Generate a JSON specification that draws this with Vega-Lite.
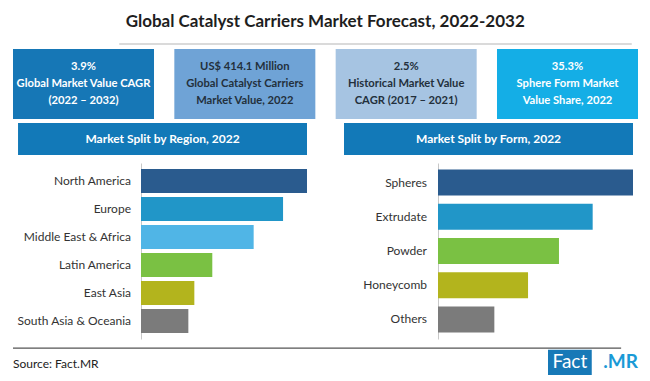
{
  "$schema": "https://vega.github.io/schema/vega-lite/v6.json",
  "background": "white",
  "padding": {"left": 12, "right": 13, "top": 13, "bottom": 3},
  "title": {"text": "Global Catalyst Carriers Market Forecast, 2022-2032", "fontSize": 17, "fontWeight": "bold", "font": "Lato", "color": "#1e1e1e", "anchor": "middle", "offset": 12},
  "spacing": 4,
  "datasets": {
    "region": [
      {"region": "North America", "value": 30.5},
      {"region": "Europe", "value": 26.1},
      {"region": "Middle East & Africa", "value": 20.7},
      {"region": "Latin America", "value": 13.1},
      {"region": "East Asia", "value": 9.8},
      {"region": "South Asia & Oceania", "value": 8.7}
    ],
    "form": [
      {"form": "Spheres", "value": 35.3},
      {"form": "Extrudate", "value": 28.0},
      {"form": "Powder", "value": 21.9},
      {"form": "Honeycomb", "value": 16.3},
      {"form": "Others", "value": 10.2}
    ]
  },
  "resolve": {"scale": {"color": "independent", "x": "independent", "y": "independent"}},
  "vconcat": [
    {
      "width": 625, "height": 1,
      "data": {"values": [{"k": 1}]},
      "mark": {"type": "rule", "color": "#b5b5b5", "strokeWidth": 1},
      "encoding": {
        "x": {"datum": 0.17, "type": "quantitative", "scale": {"domain": [0, 1]}, "axis": null},
        "x2": {"datum": 0.99},
        "y": {"datum": 0, "type": "quantitative", "scale": {"domain": [0, 1]}, "axis": null}
      }
    },
    {
      "width": 625, "height": 70,
      "data": {"values": [
        {"box": "A", "label": "3.9%\nGlobal Market Value CAGR\n(2022 – 2032)"},
        {"box": "B", "label": "US$ 414.1 Million\nGlobal Catalyst Carriers\nMarket Value, 2022"},
        {"box": "C", "label": "2.5%\nHistorical Market Value\nCAGR (2017 – 2021)"},
        {"box": "D", "label": "35.3%\nSphere Form Market\nValue Share, 2022"}
      ]},
      "encoding": {"x": {"field": "box", "type": "nominal", "scale": {"type": "band", "paddingInner": 0.126, "paddingOuter": 0}, "axis": null}},
      "layer": [
        {"mark": {"type": "rect"}, "encoding": {"color": {"field": "box", "type": "nominal", "scale": {"domain": ["A", "B", "C", "D"], "range": ["#1677b6", "#6fa3d6", "#a6c4e2", "#14aee6"]}, "legend": null}}},
        {"mark": {"type": "text", "lineBreak": "\n", "fontWeight": "bold", "fontSize": 11.2, "lineHeight": 17, "baseline": "middle", "dy": -17, "font": "Lato"},
         "encoding": {"text": {"field": "label"}, "color": {"field": "box", "type": "nominal", "scale": {"domain": ["A", "B", "C", "D"], "range": ["#ffffff", "#23303c", "#23303c", "#ffffff"]}, "legend": null}}}
      ],
      "resolve": {"scale": {"color": "independent"}}
    },
    {
      "spacing": 37,
      "resolve": {"scale": {"color": "independent", "x": "independent", "y": "independent"}},
      "hconcat": [
        {
          "spacing": 8,
          "resolve": {"scale": {"color": "independent", "x": "independent", "y": "independent"}},
          "vconcat": [
            {
              "width": 294, "height": 32,
              "data": {"values": [{"t": "Market Split by Region, 2022"}]},
              "encoding": {"x": {"field": "t", "type": "nominal", "scale": {"type": "band", "paddingInner": 0, "paddingOuter": 0.0087, "align": 1}, "axis": null}},
              "layer": [
                {"mark": {"type": "rect", "color": "#1279b8"}},
                {"mark": {"type": "text", "color": "white", "fontWeight": "bold", "fontSize": 12, "font": "Lato"}, "encoding": {"text": {"field": "t"}}}
              ]
            },
            {
              "spacing": 0,
              "resolve": {"scale": {"color": "independent", "x": "independent", "y": "independent"}},
              "hconcat": [
                {
                  "width": 128, "height": 176,
                  "data": {"name": "region"},
                  "mark": {"type": "text", "align": "right", "dx": -10, "fontSize": 12, "color": "#333333", "font": "Lato"},
                  "encoding": {
                    "y": {"field": "region", "type": "nominal", "sort": null, "scale": {"type": "band", "paddingInner": 0.14, "paddingOuter": 0.21}, "axis": null},
                    "x": {"datum": 1, "type": "quantitative", "scale": {"domain": [0, 1]}, "axis": null},
                    "text": {"field": "region"}
                  }
                },
                {
                  "width": 166, "height": 176,
                  "data": {"name": "region"},
                  "mark": {"type": "bar"},
                  "encoding": {
                    "y": {"field": "region", "type": "nominal", "sort": null, "scale": {"paddingInner": 0.14, "paddingOuter": 0.21}, "axis": {"labels": false, "ticks": false, "title": null, "grid": false, "domainColor": "#c8c8c8"}},
                    "x": {"field": "value", "type": "quantitative", "scale": {"nice": false}, "axis": null},
                    "color": {"field": "region", "type": "nominal", "scale": {"domain": ["North America", "Europe", "Middle East & Africa", "Latin America", "East Asia", "South Asia & Oceania"], "range": ["#2a5b8e", "#2196c8", "#50b5e6", "#7ac143", "#b3b41d", "#7b7b7b"]}, "legend": null}
                  }
                }
              ]
            }
          ]
        },
        {
          "spacing": 8,
          "resolve": {"scale": {"color": "independent", "x": "independent", "y": "independent"}},
          "vconcat": [
            {
              "width": 289, "height": 32,
              "data": {"values": [{"t": "Market Split by Form, 2022"}]},
              "layer": [
                {"mark": {"type": "rect", "color": "#1279b8"}, "encoding": {}},
                {"mark": {"type": "text", "color": "white", "fontWeight": "bold", "fontSize": 12, "font": "Lato"}, "encoding": {"text": {"field": "t"}}}
              ]
            },
            {
              "spacing": 0,
              "resolve": {"scale": {"color": "independent", "x": "independent", "y": "independent"}},
              "hconcat": [
                {
                  "width": 94, "height": 176,
                  "data": {"name": "form"},
                  "mark": {"type": "text", "align": "right", "dx": -11, "fontSize": 12, "color": "#333333", "font": "Lato"},
                  "encoding": {
                    "y": {"field": "form", "type": "nominal", "sort": null, "scale": {"type": "band", "paddingInner": 0.24, "paddingOuter": 0.19}, "axis": null},
                    "x": {"datum": 1, "type": "quantitative", "scale": {"domain": [0, 1]}, "axis": null},
                    "text": {"field": "form"}
                  }
                },
                {
                  "width": 195, "height": 176,
                  "data": {"name": "form"},
                  "mark": {"type": "bar"},
                  "encoding": {
                    "y": {"field": "form", "type": "nominal", "sort": null, "scale": {"paddingInner": 0.24, "paddingOuter": 0.19}, "axis": {"labels": false, "ticks": false, "title": null, "grid": false, "domainColor": "#c8c8c8"}},
                    "x": {"field": "value", "type": "quantitative", "scale": {"nice": false}, "axis": null},
                    "color": {"field": "form", "type": "nominal", "scale": {"domain": ["Spheres", "Extrudate", "Powder", "Honeycomb", "Others"], "range": ["#2a5b8e", "#2196c8", "#7ac143", "#b3b41d", "#7b7b7b"]}, "legend": null}
                  }
                }
              ]
            }
          ]
        }
      ]
    },
    {
      "width": 625, "height": 36,
      "data": {"values": [{"src": "Source: Fact.MR", "logo1": "Fact", "logo2": ".MR"}]},
      "layer": [
        {"mark": {"type": "rule", "color": "#555555", "strokeWidth": 1.2},
         "encoding": {
           "x": {"datum": 0, "type": "quantitative", "scale": {"domain": [0, 1]}, "axis": null},
           "x2": {"datum": 0.973},
           "y": {"datum": 0.14, "type": "quantitative", "scale": {"domain": [0, 1], "reverse": true}, "axis": null}
         }},
        {"mark": {"type": "text", "align": "left", "baseline": "middle", "fontSize": 12, "color": "#222222", "font": "Lato"},
         "encoding": {
           "x": {"datum": 0, "type": "quantitative"},
           "y": {"datum": 0.58, "type": "quantitative"},
           "text": {"field": "src"}
         }},
        {"mark": {"type": "rect", "color": "#1779b7"},
         "encoding": {
           "x": {"datum": 0.856, "type": "quantitative"},
           "x2": {"datum": 0.926},
           "y": {"datum": 0.19, "type": "quantitative"},
           "y2": {"datum": 0.89}
         }},
        {"mark": {"type": "text", "align": "center", "baseline": "middle", "fontSize": 19, "color": "white", "font": "Lato"},
         "encoding": {
           "x": {"datum": 0.891, "type": "quantitative"},
           "y": {"datum": 0.54, "type": "quantitative"},
           "text": {"field": "logo1"}
         }},
        {"mark": {"type": "text", "align": "right", "baseline": "middle", "fontSize": 19, "fontWeight": "bold", "color": "#1a9ad6", "font": "Lato"},
         "encoding": {
           "x": {"datum": 1, "type": "quantitative"},
           "y": {"datum": 0.54, "type": "quantitative"},
           "text": {"field": "logo2"}
         }}
      ]
    }
  ],
  "config": {"view": {"stroke": null}, "font": "Lato"}
}
